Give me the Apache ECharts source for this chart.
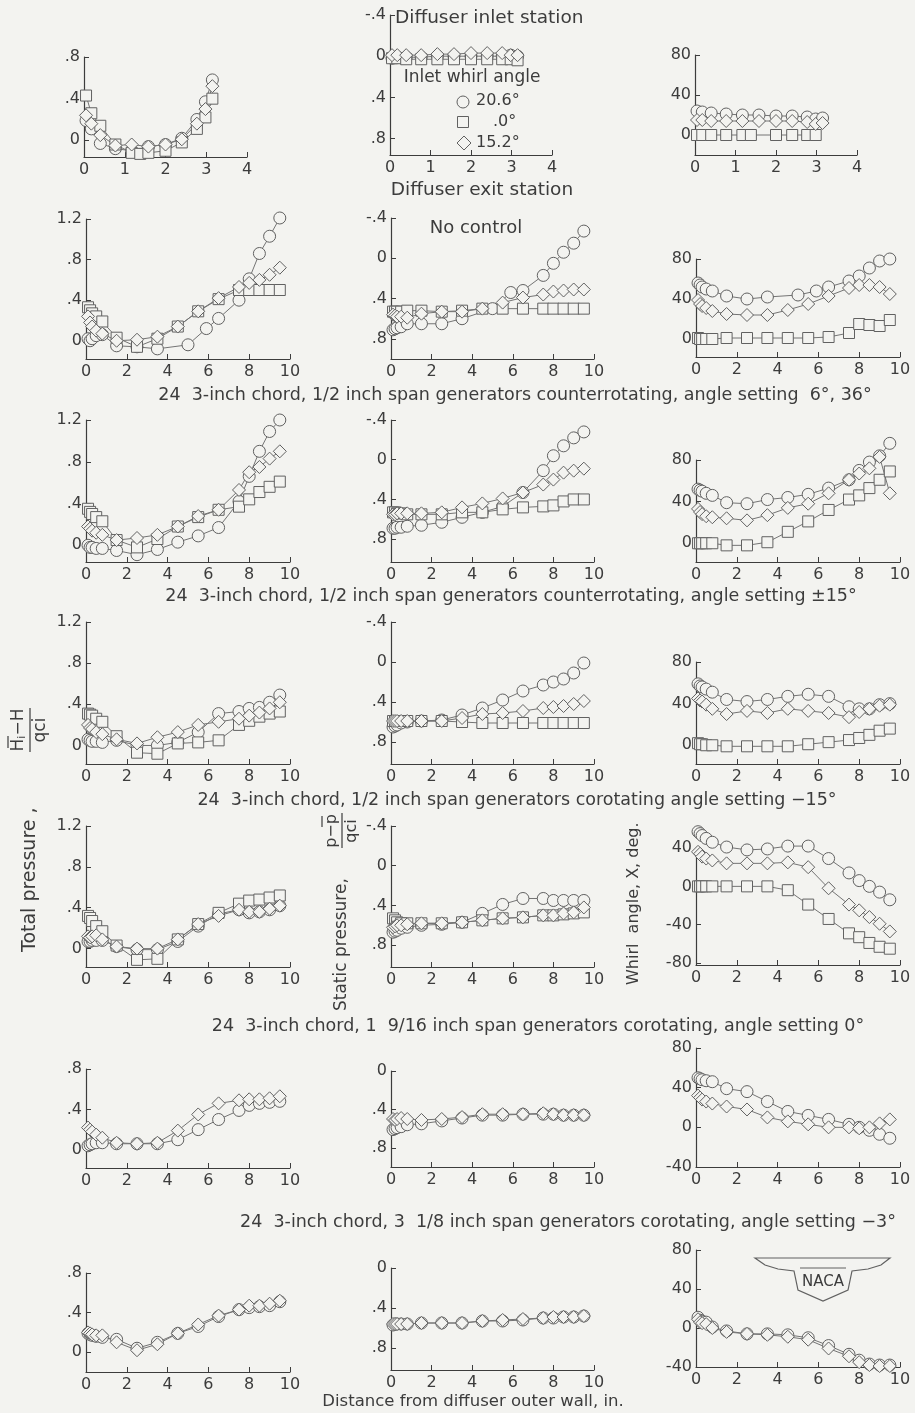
<!DOCTYPE html>
<html><head><meta charset="utf-8">
<script src="https://cdn.jsdelivr.net/npm/echarts@6/dist/echarts.min.js"></script>
<style>html,body{margin:0;padding:0;background:#f3f3f0;}#c{width:915px;height:1413px;}</style>
</head><body><div id="c"></div>
<script>
// ---------- stations (distance from diffuser outer wall, in.) ----------
const X1 = [0.05,0.18,0.4,0.77,1.17,1.38,1.58,2.0,2.4,2.77,2.98,3.15];
const X  = [0.1,0.2,0.3,0.5,0.8,1.5,2.5,3.5,4.5,5.5,6.5,7.5,8,8.5,9,9.5];
const X2c = [0.1,0.2,0.3,0.5,0.8,1.5,2.5,3.5,5.0,5.9,6.5,7.5,8,8.5,9,9.5];

// ---------- Row 1: inlet/exit stations ----------
const tp1_c = [0.19,0.11,-0.03,-0.08,-0.1,null,-0.06,-0.04,0.02,0.2,0.37,0.58];
const tp1_s = [0.43,0.26,0.14,-0.04,-0.12,-0.13,-0.12,-0.1,-0.02,0.11,0.22,0.4];
const tp1_d = [0.24,0.16,0.05,-0.05,-0.04,null,-0.06,-0.04,0.01,0.16,0.3,0.52];
const sp1_c = [0.02,0.01,0.01,0.01,0.0,null,0.0,0.0,0.0,0.0,-0.01,0.0];
const sp1_s = [0.02,0.02,0.03,0.03,0.03,null,0.03,0.03,0.03,0.03,0.03,0.04];
const sp1_d = [-0.01,-0.01,-0.01,-0.01,-0.02,null,-0.02,-0.03,-0.03,-0.03,-0.01,-0.01];
const wa1_c = [24,23,22,21,20,null,20,19,19,18,16,17];
const wa1_s = [0,0,0,0,0,0,null,0,0,0,0,null];
const wa1_d = [15,15,14,14,14,null,14,14,14,13,11,12];

// ---------- Row 2: no control ----------
const tp2_c = [0.02,0.0,0.02,0.05,0.06,-0.05,-0.06,-0.08,-0.04,0.12,0.22,0.4,0.61,0.86,1.03,1.21];
const tp2_s = [0.33,0.3,0.27,0.24,0.19,0.03,-0.06,0.02,0.14,0.29,0.41,0.5,0.5,0.5,0.5,0.5];
const tp2_d = [0.24,0.18,0.14,0.1,0.07,0.0,0.01,0.04,0.14,0.29,0.42,0.53,0.57,0.6,0.65,0.72];
const sp2_c = [0.71,0.7,0.69,0.68,0.65,0.65,0.65,0.6,0.5,0.34,0.32,0.17,0.05,-0.06,-0.15,-0.27];
const sp2_s = [0.53,0.53,0.53,0.53,0.52,0.52,0.53,0.52,0.5,0.5,0.5,0.5,0.5,0.5,0.5,0.5];
const sp2_d = [0.56,0.57,0.58,0.58,0.59,0.55,0.53,0.53,0.5,0.44,0.39,0.36,0.33,0.32,0.31,0.31];
const wa2_c = [56,54,52,50,48,43,40,42,44,48,52,58,63,71,78,80];
const wa2_s = [1,0,0,0,0,1,1,1,1,1,2,6,15,14,13,19];
const wa2_d = [39,35,33,31,28,25,24,24,29,35,43,51,54,54,52,45];

// ---------- Row 3: counterrotating 6°, 36° ----------
const tp3_c = [0.0,-0.02,-0.02,-0.03,-0.03,-0.05,-0.09,-0.04,0.03,0.09,0.17,0.42,0.66,0.9,1.09,1.2];
const tp3_s = [0.35,0.32,0.3,0.27,0.23,0.05,-0.02,0.06,0.18,0.27,0.34,0.37,0.44,0.51,0.56,0.61];
const tp3_d = [0.18,0.16,0.14,0.12,0.1,0.05,0.07,0.1,0.18,0.28,0.34,0.53,0.7,0.75,0.83,0.9];
const sp3_c = [0.69,0.69,0.68,0.68,0.67,0.66,0.63,0.58,0.53,0.47,0.33,0.11,-0.04,-0.14,-0.22,-0.28];
const sp3_s = [0.53,0.53,0.54,0.54,0.55,0.55,0.55,0.53,0.53,0.5,0.48,0.47,0.46,0.42,0.4,0.4];
const sp3_d = [0.55,0.55,0.54,0.54,0.54,0.54,0.53,0.48,0.44,0.39,0.33,0.25,0.2,0.13,0.11,0.09];
const wa3_c = [52,51,50,48,46,39,38,42,44,47,53,61,70,78,84,96];
const wa3_s = [0,0,0,0,0,-2,-2,1,11,21,32,42,46,53,61,69];
const wa3_d = [33,30,28,26,25,24,22,27,34,38,48,61,67,72,83,48];

// ---------- Row 4: counterrotating ±15° ----------
const tp4_c = [0.06,0.05,0.04,0.04,0.03,0.05,0.0,0.0,0.03,0.13,0.31,0.33,0.36,0.37,0.42,0.49];
const tp4_s = [0.31,0.3,0.29,0.26,0.23,0.09,-0.07,-0.08,0.02,0.03,0.05,0.2,0.24,0.28,0.31,0.33];
const tp4_d = [0.2,0.17,0.16,0.13,0.11,0.06,0.02,0.08,0.13,0.2,0.23,0.26,0.29,0.32,0.36,0.42];
const sp4_c = [0.65,0.64,0.63,0.61,0.6,0.59,0.58,0.53,0.46,0.38,0.29,0.23,0.2,0.17,0.11,0.01];
const sp4_s = [0.59,0.59,0.59,0.59,0.59,0.59,0.59,0.6,0.61,0.61,0.61,0.61,0.61,0.61,0.61,0.61];
const sp4_d = [0.59,0.59,0.59,0.59,0.59,0.59,0.59,0.56,0.52,0.51,0.49,0.46,0.45,0.44,0.42,0.39];
const wa4_c = [59,57,56,54,51,44,42,44,47,49,47,37,35,35,39,40];
const wa4_s = [2,1,1,0,0,-1,-1,-1,-1,1,3,5,7,10,14,16];
const wa4_d = [45,43,42,39,35,30,33,31,35,33,31,27,32,35,38,39];

// ---------- Row 5: corotating -15° ----------
const tp5_c = [0.07,0.07,0.08,0.08,0.08,0.02,-0.01,-0.01,0.07,0.22,0.34,0.38,0.35,0.36,0.38,0.42];
const tp5_s = [0.32,0.3,0.27,0.22,0.17,0.03,-0.11,-0.1,0.09,0.24,0.35,0.44,0.47,0.48,0.5,0.52];
const tp5_d = [0.12,0.11,0.12,0.13,0.09,0.02,0.0,0.0,0.09,0.24,0.32,0.38,0.36,0.36,0.39,0.42];
const sp5_c = [0.67,0.66,0.65,0.63,0.62,0.6,0.59,0.57,0.48,0.39,0.33,0.33,0.35,0.35,0.35,0.35];
const sp5_s = [0.53,0.55,0.57,0.58,0.58,0.58,0.58,0.57,0.55,0.53,0.52,0.5,0.5,0.49,0.48,0.47];
const sp5_d = [0.62,0.61,0.6,0.6,0.59,0.58,0.58,0.57,0.55,0.53,0.52,0.5,0.5,0.48,0.47,0.42];
const wa5_c = [57,55,53,50,46,41,38,39,42,42,29,14,6,0,-6,-14];
const wa5_s = [0,0,0,0,0,0,0,0,-4,-19,-34,-49,-53,-59,-63,-65];
const wa5_d = [36,34,31,29,27,24,24,24,25,20,-2,-19,-25,-32,-39,-47];

// ---------- Row 6: corotating 0° (1 9/16 span) ----------
const tp6_c = [0.04,0.05,0.06,0.07,0.07,0.06,0.06,0.06,0.1,0.2,0.3,0.39,0.44,0.46,0.47,0.48];
const tp6_d = [0.22,0.2,0.18,0.15,0.12,0.07,0.06,0.07,0.19,0.35,0.46,0.49,0.5,0.5,0.51,0.53];
const sp6_c = [0.61,0.6,0.59,0.58,0.56,0.55,0.52,0.49,0.46,0.46,0.45,0.45,0.45,0.46,0.46,0.46];
const sp6_d = [0.5,0.51,0.5,0.49,0.5,0.51,0.5,0.48,0.45,0.45,0.45,0.44,0.45,0.46,0.46,0.46];
const wa6_c = [50,49,48,47,46,39,36,26,16,12,8,3,0,-3,-7,-11];
const wa6_d = [32,30,28,26,24,21,18,10,6,3,0,0,-1,0,4,8];

// ---------- Row 7: corotating -3° (3 1/8 span) ----------
const tp7_c = [0.19,0.18,0.17,0.16,0.15,0.13,0.04,0.1,0.19,0.26,0.36,0.43,0.45,0.46,0.47,0.51];
const tp7_d = [0.2,0.19,0.18,0.17,0.17,0.1,0.02,0.08,0.19,0.28,0.37,0.43,0.47,0.47,0.49,0.52];
const sp7_c = [0.57,0.56,0.56,0.56,0.56,0.55,0.55,0.55,0.53,0.53,0.52,0.5,0.5,0.49,0.49,0.48];
const sp7_d = [0.56,0.56,0.56,0.56,0.56,0.55,0.55,0.55,0.53,0.52,0.51,0.5,0.49,0.49,0.49,0.48];
const wa7_c = [11,8,7,6,1,-3,-6,-6,-7,-10,-18,-27,-33,-37,-38,-38];
const wa7_d = [9,6,5,4,0,-4,-6,-7,-9,-12,-21,-29,-35,-38,-39,-39];

// ---------- tick values ----------
const tpTicksA = [0,0.4,0.8];
const tpTicksB = [0,0.4,0.8,1.2];
const spTicksA = [-0.4,0,0.4,0.8];
const spTicksB = [0,0.4,0.8];
const waTicksA = [0,40,80];
const waTicksB = [-80,-40,0,40];
const waTicksC = [-40,0,40,80];

// ---------- text ----------
const legendTitle = 'Inlet whirl angle';
const legendLabels = ['20.6°','.0°','15.2°'];
const captions = [
  '24  3-inch chord, 1/2 inch span generators counterrotating, angle setting  6°, 36°',
  '24  3-inch chord, 1/2 inch span generators counterrotating, angle setting ±15°',
  '24  3-inch chord, 1/2 inch span generators corotating angle setting −15°',
  '24  3-inch chord, 1  9/16 inch span generators corotating, angle setting 0°',
  '24  3-inch chord, 3  1/8 inch span generators corotating, angle setting −3°'
];

// ================= rendering =================
const FONT = 'DejaVu Sans';
const INK = '#3c3c3c';
const BG = '#f3f3f0';
const MK = '#616161';
const LN = '#747474';
const chart = echarts.init(document.getElementById('c'));
const grids = [], xAxes = [], yAxes = [], series = [];

function strip(v){ return String(v).replace(/^0\./,'.').replace(/^-0\./,'-.'); }
const fmtTP = v => v===0 ? '0' : strip(v);
const fmtSP = v => v===0 ? '0' : strip(v);
const fmtWA = v => String(v);

const SYM = {c:['circle',12], s:['rect',11], d:['diamond',13]};

function panel(box, xmax, ymin, ymax, inverse, ticks, fmt, sers){
  const i = grids.length;
  grids.push({left:box.l, top:box.t, width:box.r-box.l, height:box.b-box.t});
  xAxes.push({gridIndex:i, type:'value', min:0, max:xmax, interval: xmax===4?1:2,
    axisLine:{show:true,onZero:false,lineStyle:{color:INK,width:1.2}},
    axisTick:{show:true,inside:true,length:5,lineStyle:{color:INK}},
    axisLabel:{color:INK,fontSize:16,fontFamily:FONT,margin:5},
    splitLine:{show:false}});
  yAxes.push({gridIndex:i, type:'value', min:ymin, max:ymax, inverse:inverse,
    axisLine:{show:true,onZero:false,lineStyle:{color:INK,width:1.2}},
    axisTick:{show:true,inside:true,length:5,customValues:ticks,lineStyle:{color:INK}},
    axisLabel:{customValues:ticks,formatter:fmt,color:INK,fontSize:16,fontFamily:FONT,margin:4},
    splitLine:{show:false}});
  sers.forEach(s=>{
    const sym = SYM[s.k];
    series.push({type:'line', xAxisIndex:i, yAxisIndex:i, clip:false, animation:false,
      data: s.x.map((x,k)=>[x,s.y[k]]).filter(p=>p[1]!==null && p[1]!==undefined),
      symbol:sym[0], symbolSize:sym[1], showAllSymbol:true,
      itemStyle:{color:BG,borderColor:MK,borderWidth:1},
      lineStyle:{color:LN,width:1}, emphasis:{disabled:true}, silent:true});
  });
}

const C1 = [{l:84,r:247},{l:390,r:552},{l:695,r:857}];
const C  = [{l:86,r:290},{l:391,r:594},{l:696,r:900}];
function B(c,t,b){ return {l:c.l,r:c.r,t:t,b:b}; }

// Row 1
panel(B(C1[0],57,157),4,-0.16,0.8,false,tpTicksA,fmtTP,[{k:'c',x:X1,y:tp1_c},{k:'s',x:X1,y:tp1_s},{k:'d',x:X1,y:tp1_d}]);
panel(B(C1[1],15,155),4,-0.4,0.96,true,spTicksA,fmtSP,[{k:'c',x:X1,y:sp1_c},{k:'s',x:X1,y:sp1_s},{k:'d',x:X1,y:sp1_d}]);
panel(B(C1[2],55,155),4,-20,80,false,waTicksA,fmtWA,[{k:'c',x:X1,y:wa1_c},{k:'s',x:X1,y:wa1_s},{k:'d',x:X1,y:wa1_d}]);
// Row 2
panel(B(C[0],219,359),10,-0.18,1.2,false,tpTicksB,fmtTP,[{k:'c',x:X2c,y:tp2_c},{k:'s',x:X,y:tp2_s},{k:'d',x:X,y:tp2_d}]);
panel(B(C[1],218,359),10,-0.4,1.0,true,spTicksA,fmtSP,[{k:'c',x:X2c,y:sp2_c},{k:'s',x:X,y:sp2_s},{k:'d',x:X,y:sp2_d}]);
panel(B(C[2],259,357),10,-18,80,false,waTicksA,fmtWA,[{k:'c',x:X2c,y:wa2_c},{k:'s',x:X,y:wa2_s},{k:'d',x:X,y:wa2_d}]);
// Row 3
panel(B(C[0],420,562),10,-0.16,1.2,false,tpTicksB,fmtTP,[{k:'c',x:X,y:tp3_c},{k:'s',x:X,y:tp3_s},{k:'d',x:X,y:tp3_d}]);
panel(B(C[1],420,562),10,-0.4,1.03,true,spTicksA,fmtSP,[{k:'c',x:X,y:sp3_c},{k:'s',x:X,y:sp3_s},{k:'d',x:X,y:sp3_d}]);
panel(B(C[2],460,562),10,-18,80,false,waTicksA,fmtWA,[{k:'c',x:X,y:wa3_c},{k:'s',x:X,y:wa3_s},{k:'d',x:X,y:wa3_d}]);
// Row 4
panel(B(C[0],622,764),10,-0.18,1.2,false,tpTicksB,fmtTP,[{k:'c',x:X,y:tp4_c},{k:'s',x:X,y:tp4_s},{k:'d',x:X,y:tp4_d}]);
panel(B(C[1],622,764),10,-0.4,1.02,true,spTicksA,fmtSP,[{k:'c',x:X,y:sp4_c},{k:'s',x:X,y:sp4_s},{k:'d',x:X,y:sp4_d}]);
panel(B(C[2],662,764),10,-18,80,false,waTicksA,fmtWA,[{k:'c',x:X,y:wa4_c},{k:'s',x:X,y:wa4_s},{k:'d',x:X,y:wa4_d}]);
// Row 5
panel(B(C[0],826,967),10,-0.18,1.2,false,tpTicksB,fmtTP,[{k:'c',x:X,y:tp5_c},{k:'s',x:X,y:tp5_s},{k:'d',x:X,y:tp5_d}]);
panel(B(C[1],826,967),10,-0.4,1.02,true,spTicksA,fmtSP,[{k:'c',x:X,y:sp5_c},{k:'s',x:X,y:sp5_s},{k:'d',x:X,y:sp5_d}]);
panel(B(C[2],848,965),10,-82,40,false,waTicksB,fmtWA,[{k:'c',x:X,y:wa5_c},{k:'s',x:X,y:wa5_s},{k:'d',x:X,y:wa5_d}]);
// Row 6
panel(B(C[0],1069,1168),10,-0.18,0.8,false,tpTicksA,fmtTP,[{k:'c',x:X,y:tp6_c},{k:'d',x:X,y:tp6_d}]);
panel(B(C[1],1071,1167),10,0,1.0,true,spTicksB,fmtSP,[{k:'c',x:X,y:sp6_c},{k:'d',x:X,y:sp6_d}]);
panel(B(C[2],1048,1167),10,-40,80,false,waTicksC,fmtWA,[{k:'c',x:X,y:wa6_c},{k:'d',x:X,y:wa6_d}]);
// Row 7
panel(B(C[0],1273,1372),10,-0.2,0.8,false,tpTicksA,fmtTP,[{k:'c',x:X,y:tp7_c},{k:'d',x:X,y:tp7_d}]);
panel(B(C[1],1268,1370),10,0,1.02,true,spTicksB,fmtSP,[{k:'c',x:X,y:sp7_c},{k:'d',x:X,y:sp7_d}]);
panel(B(C[2],1250,1367),10,-40,80,false,waTicksC,fmtWA,[{k:'c',x:X,y:wa7_c},{k:'d',x:X,y:wa7_d}]);

// ---------- graphic text ----------
function T(text,x,y,size,align){
  return {type:'text', x:x, y:y, silent:true, style:{text:text, fill:INK, font:size+'px "'+FONT+'"', align:align||'center', verticalAlign:'middle'}};
}
const g = [];
g.push(T('Diffuser inlet station',395,18,18.5,'left'));
g.push(T('Diffuser exit station',482,190,18.5));
g.push(T(legendTitle,472,78,17));
g.push(T(legendLabels[0],476,101,16,'left'));
g.push(T(legendLabels[1],493,122,16,'left'));
g.push(T(legendLabels[2],476,143,16,'left'));
g.push({type:'circle', silent:true, shape:{cx:463,cy:102,r:6}, style:{fill:'none',stroke:MK,lineWidth:1}});
g.push({type:'rect', silent:true, shape:{x:457.5,y:116.5,width:11,height:11}, style:{fill:'none',stroke:MK,lineWidth:1}});
g.push({type:'polygon', silent:true, shape:{points:[[464,136],[471,143],[464,150],[457,143]]}, style:{fill:'none',stroke:MK,lineWidth:1}});
g.push(T('No control',476,228,18));
const capY = [395,596,800,1026,1222];
const capX = [515,511,517,538,568];
captions.forEach((c,i)=>g.push(T(c,capX[i],capY[i],17.5)));
g.push(T('Distance from diffuser outer wall, in.',473,1402,16.5));

// rotated axis titles
g.push({type:'group', x:30, y:952, rotation:Math.PI/2, silent:true, children:[
  {type:'text', x:0, y:0, style:{text:'Total pressure ,', fill:INK, font:'19px "'+FONT+'"', align:'left', verticalAlign:'middle'}},
  {type:'text', x:222, y:-11, style:{text:'{a|H}{b|i}{a|−H}', fill:INK, align:'center', verticalAlign:'middle', rich:{a:{font:'17px "'+FONT+'"',fill:INK}, b:{font:'11px "'+FONT+'"',fill:INK, verticalAlign:'bottom'}}}},
  {type:'line', shape:{x1:204,y1:-22,x2:216,y2:-22}, style:{stroke:INK,lineWidth:1.2}},
  {type:'line', shape:{x1:200,y1:0,x2:244,y2:0}, style:{stroke:INK,lineWidth:1.2}},
  {type:'text', x:222, y:11, style:{text:'qci', fill:INK, font:'17px "'+FONT+'"', align:'center', verticalAlign:'middle'}}
]});
g.push({type:'group', x:342, y:1011, rotation:Math.PI/2, silent:true, children:[
  {type:'text', x:0, y:0, style:{text:'Static pressure,', fill:INK, font:'17px "'+FONT+'"', align:'left', verticalAlign:'middle'}},
  {type:'text', x:180, y:-10, style:{text:'p−p', fill:INK, font:'16px "'+FONT+'"', align:'center', verticalAlign:'middle'}},
  {type:'line', shape:{x1:184,y1:-20,x2:195,y2:-20}, style:{stroke:INK,lineWidth:1.2}},
  {type:'line', shape:{x1:163,y1:0,x2:198,y2:0}, style:{stroke:INK,lineWidth:1.2}},
  {type:'text', x:180, y:10, style:{text:'qci', fill:INK, font:'16px "'+FONT+'"', align:'center', verticalAlign:'middle'}}
]});
g.push({type:'group', x:634, y:985, rotation:Math.PI/2, silent:true, children:[
  {type:'text', x:0, y:0, style:{text:'Whirl  angle, X, deg.', fill:INK, font:'16px "'+FONT+'"', align:'left', verticalAlign:'middle'}}
]});

// NACA emblem
g.push({type:'polygon', silent:true, shape:{points:[[755,1258],[890,1258],[881,1265],[868,1269],[852,1271],[848,1290],[823,1301],[798,1290],[794,1271],[778,1269],[765,1265]]}, style:{fill:'none',stroke:MK,lineWidth:1.2}});
g.push({type:'polyline', silent:true, shape:{points:[[800,1268],[846,1268]]}, style:{stroke:MK,lineWidth:1}});
g.push(T('NACA',823,1282,15));

chart.setOption({
  backgroundColor: BG,
  animation:false,
  grid: grids, xAxis: xAxes, yAxis: yAxes, series: series,
  graphic: g
});
</script></body></html>
